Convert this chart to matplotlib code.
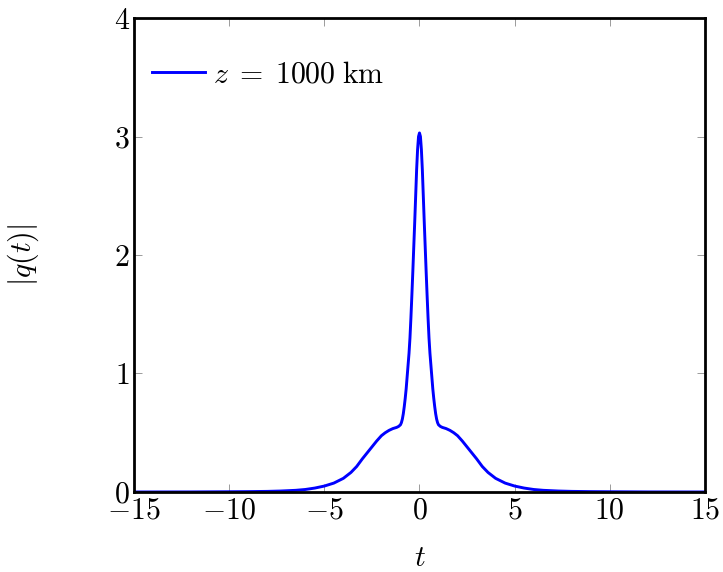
import numpy as np
import matplotlib.pyplot as plt

plt.rcParams['mathtext.fontset'] = 'cm'
plt.rcParams['font.family'] = 'serif'
plt.rcParams['font.serif'] = ['DejaVu Serif']

# values (curve is symmetric about t = 0)
t_pos = [0.0, 0.05, 0.1, 0.15, 0.2, 0.25, 0.3, 0.35, 0.4, 0.45, 0.5, 0.55, 0.6, 0.65, 0.7,
         0.75, 0.8, 0.85, 0.9, 0.95, 1.0, 1.1, 1.2, 1.4, 1.6, 1.8, 2.0, 2.25, 2.5, 2.75, 3.0,
         3.3, 3.6, 4.0, 4.5, 5.0, 5.5, 6.0, 6.5, 7.3, 8.0, 9.0, 10.0, 12.0, 15.0]
q_pos = [3.03, 3.00, 2.89, 2.72, 2.50, 2.28, 2.07, 1.86, 1.66, 1.47, 1.30, 1.17, 1.07, 0.97, 0.87,
         0.79, 0.72, 0.66, 0.615, 0.585, 0.567, 0.553, 0.545, 0.535, 0.52, 0.50, 0.475, 0.43, 0.38, 0.33, 0.28,
         0.215, 0.165, 0.115, 0.075, 0.05, 0.033, 0.021, 0.014, 0.008, 0.005, 0.003, 0.002, 0.0005, 0.0]
t_vals = [-x for x in t_pos[:0:-1]] + t_pos
q_vals = q_pos[:0:-1] + q_pos

xticks = [-15, -10, -5, 0, 5, 10, 15]
yticks = [0, 1, 2, 3, 4]
fs = 21.5

fig = plt.figure(figsize=(7.23, 5.72), dpi=100)
ax = fig.add_axes([0.1853, 0.1399, 0.7898, 0.8286])

ax.plot(t_vals, q_vals, color='#0000ff', lw=2.1, label=r'$z\;=\;1000\;\mathrm{km}$')
ax.set_xlim(-15, 15)
ax.set_ylim(0, 4)
ax.set_xticks(xticks)
ax.set_xticklabels([f'${v}$' for v in xticks])
ax.set_yticks(yticks)
ax.set_yticklabels([f'${v}$' for v in yticks])
ax.tick_params(direction='in', length=6, width=0.6, color='0.55', labelsize=fs,
               top=True, right=True, pad=3)
for s in ax.spines.values():
    s.set_linewidth(2.0)

ax.set_xlabel(r'$t$', fontsize=fs, labelpad=14)
ax.set_ylabel(r'$|q(t)|$', fontsize=fs, labelpad=52)
ax.legend(loc='center left', frameon=False, fontsize=fs, handlelength=1.77,
          handletextpad=0.27, borderpad=0, borderaxespad=0,
          bbox_to_anchor=(0.0315, 0.880))

fig.savefig('out.png', dpi=100)
